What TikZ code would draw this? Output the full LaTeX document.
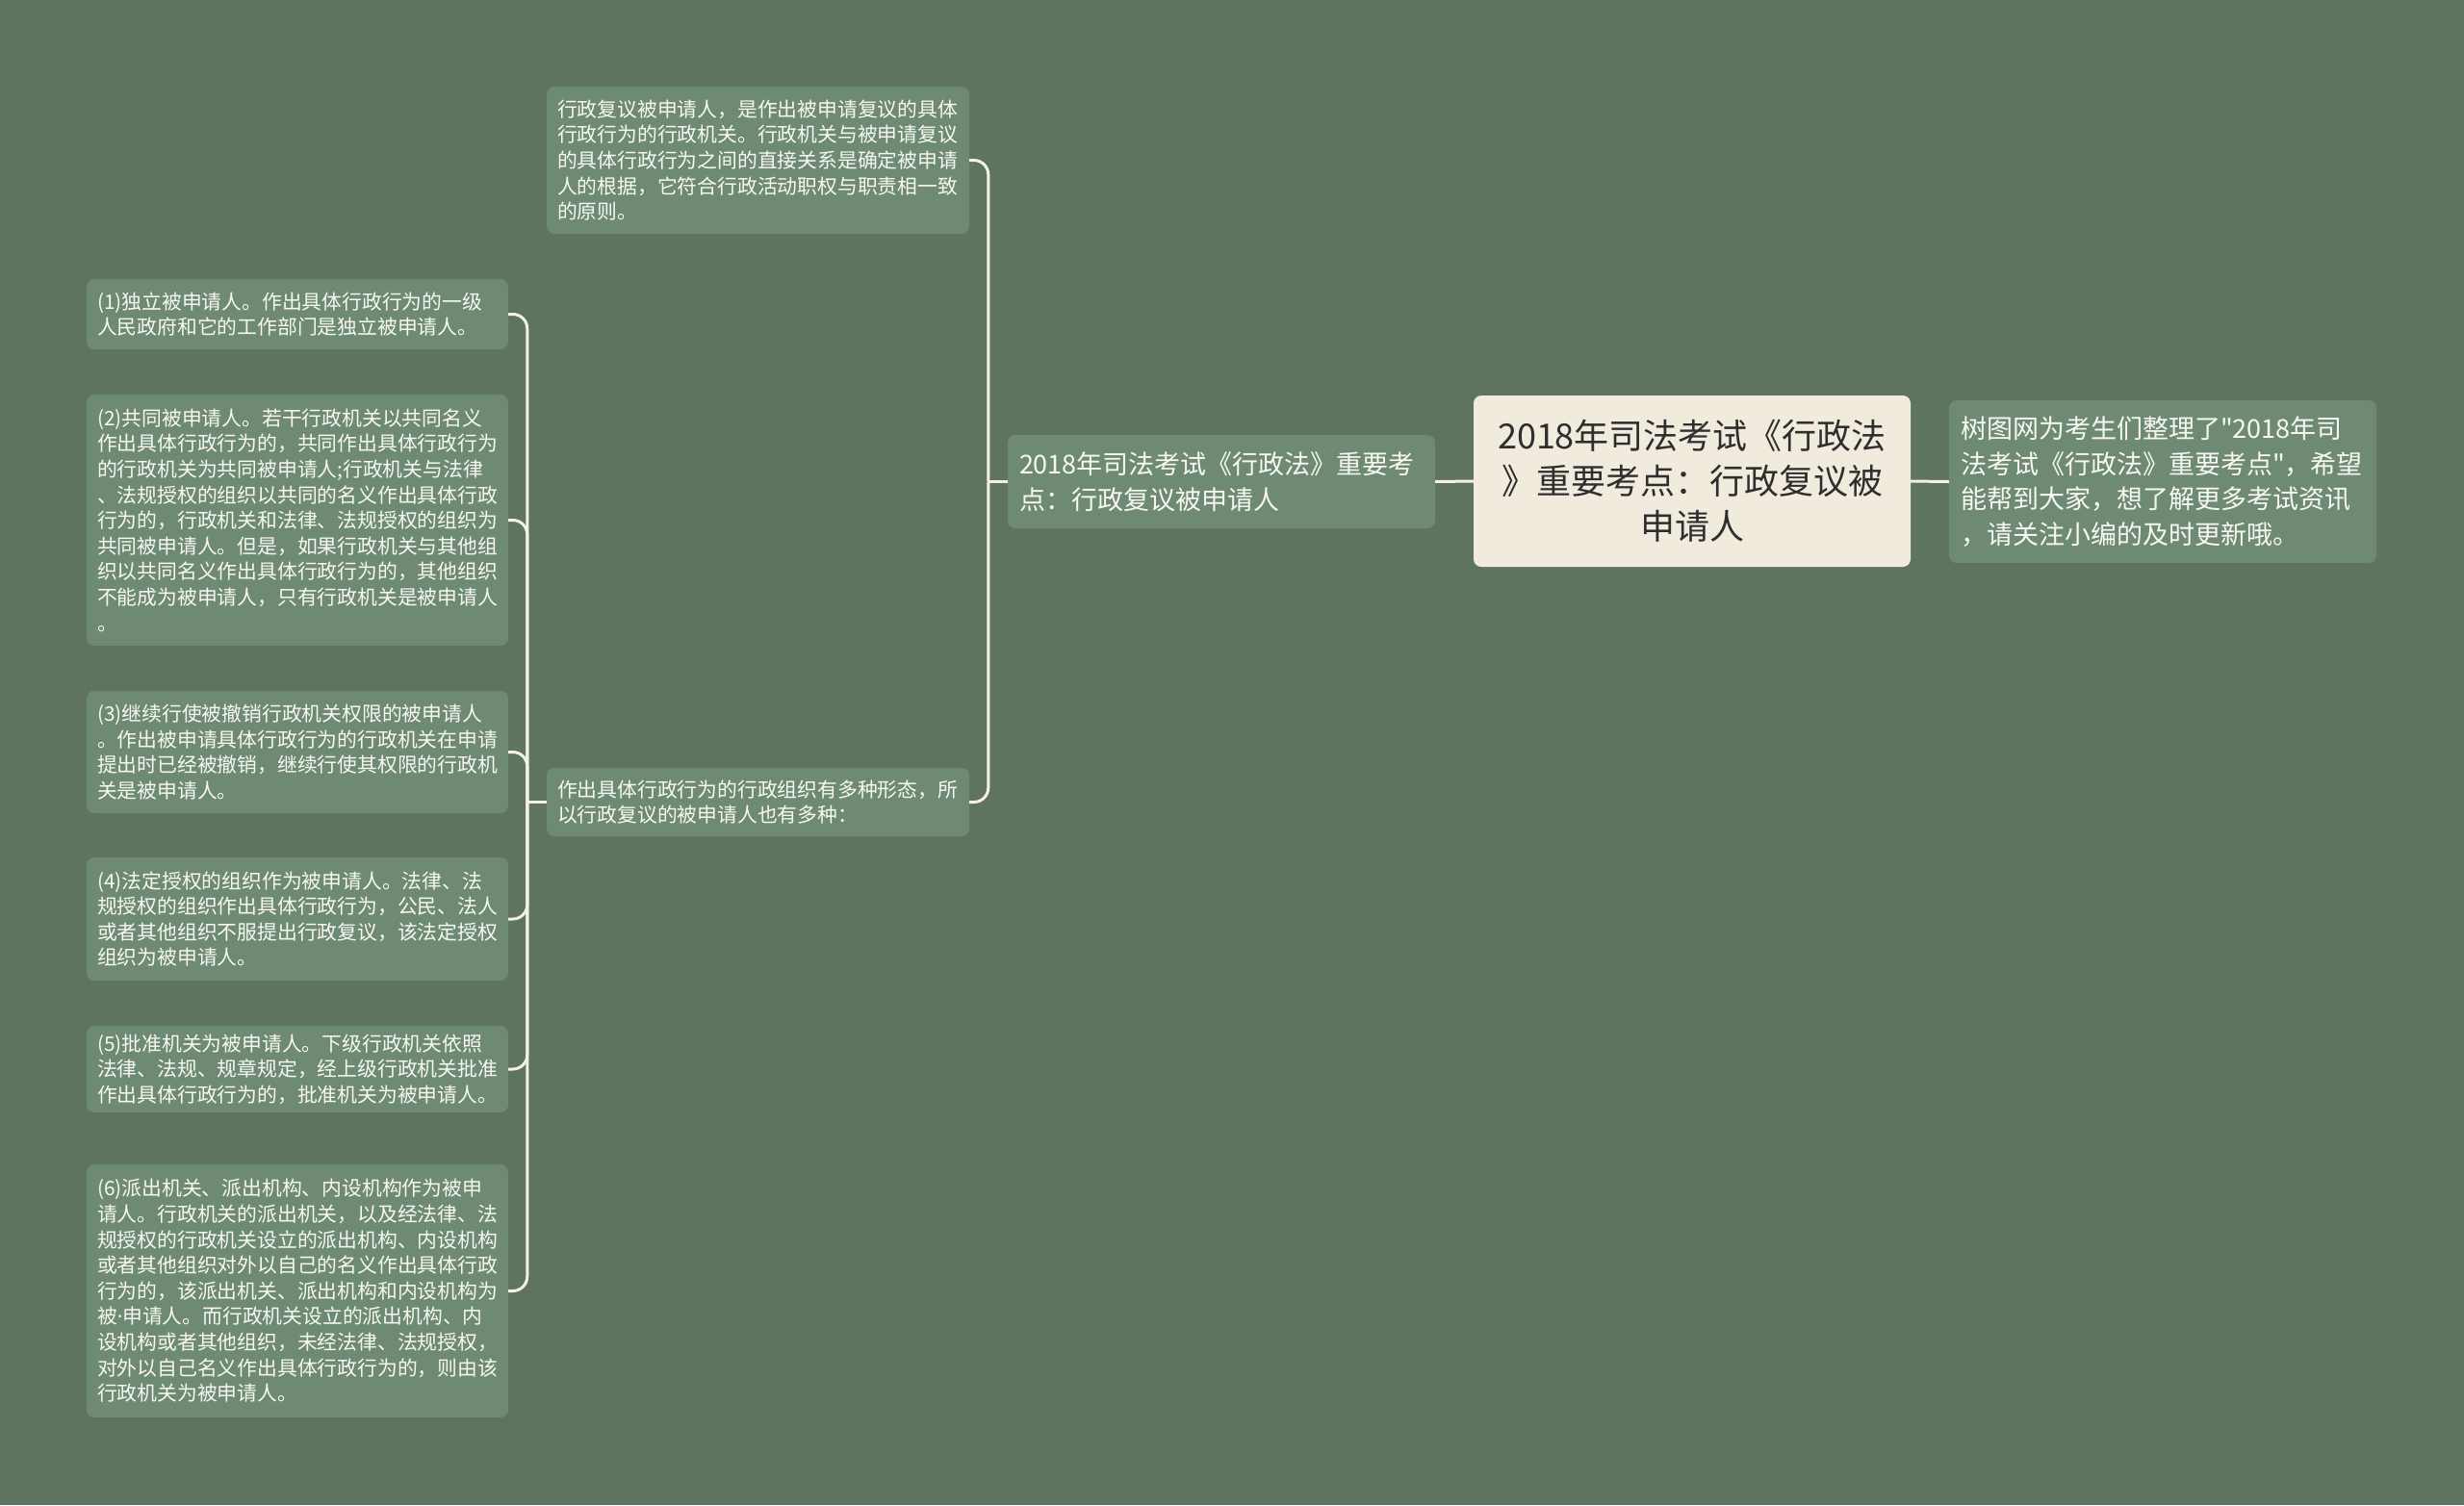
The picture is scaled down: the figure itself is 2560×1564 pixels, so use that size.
\documentclass[tikz,border=0pt]{standalone}
\usepackage{fontspec}
\newfontfamily\cjk{Noto Sans CJK SC}
\newfontfamily\latinf{Noto Sans}
\definecolor{bgc}{HTML}{5F7361}
\definecolor{boxc}{HTML}{6E8A73}
\definecolor{rootc}{HTML}{F0EBDC}
\definecolor{linec}{HTML}{F4F1DE}
\definecolor{txtc}{HTML}{F8F8F3}
\definecolor{roottxt}{HTML}{2E2E2E}
\tikzset{
  base/.style={rounded corners=8pt, inner xsep=11pt, inner ysep=8pt, font=\cjk},
  small/.style={base, fill=boxc, text=txtc, align=left, text width=#1,
     font=\cjk\fontsize{20.8}{26.6}\selectfont},
  mid/.style={base, fill=boxc, text=txtc, align=left, text width=#1,
     font=\cjk\fontsize{27}{36.5}\selectfont},
  rootbox/.style={base, fill=rootc, text=roottxt, align=center, text width=432pt,
     font=\cjk\fontsize{36}{47}\selectfont},
  conn/.style={draw=linec, line width=3pt, rounded corners=15pt},
}
\begin{document}
\begin{tikzpicture}[x=1pt, y=-1pt]
\useasboundingbox (0,0) rectangle (2560,1564);
\fill[bgc] (0,0) rectangle (2560,1564);

\node[rootbox, minimum width=454pt, minimum height=178pt] (root) at (1758,500)
 {2018年司法考试《行政法\\》重要考点：行政复议被\\申请人};
\node[mid=420pt, minimum width=444pt, minimum height=169pt] (right) at (2247,500.5)
 {树图网为考生们整理了"2018年司\\法考试《行政法》重要考点"，希望\\能帮到大家，想了解更多考试资讯\\，请关注小编的及时更新哦。};
\node[mid=420pt, minimum width=444pt, minimum height=97pt] (l1) at (1269,500.5)
 {2018年司法考试《行政法》重要考\\点：行政复议被申请人};

\node[small=417pt, minimum width=439pt, minimum height=153pt] (top) at (787.5,166.5)
 {行政复议被申请人，是作出被申请复议的具体\\行政行为的行政机关。行政机关与被申请复议\\的具体行政行为之间的直接关系是确定被申请\\人的根据，它符合行政活动职权与职责相一致\\的原则。};
\node[small=417pt, minimum width=439pt, minimum height=71pt] (bot) at (787.5,833.5)
 {作出具体行政行为的行政组织有多种形态，所\\以行政复议的被申请人也有多种：};

\node[small=416pt, minimum width=438pt, minimum height=73pt] (c1) at (309,326.5)
 {(1)独立被申请人。作出具体行政行为的一级\\人民政府和它的工作部门是独立被申请人。};
\node[small=416pt, minimum width=438pt, minimum height=261pt] (c2) at (309,540.5)
 {(2)共同被申请人。若干行政机关以共同名义\\作出具体行政行为的，共同作出具体行政行为\\的行政机关为共同被申请人;行政机关与法律\\、法规授权的组织以共同的名义作出具体行政\\行为的，行政机关和法律、法规授权的组织为\\共同被申请人。但是，如果行政机关与其他组\\织以共同名义作出具体行政行为的，其他组织\\不能成为被申请人，只有行政机关是被申请人\\。};
\node[small=416pt, minimum width=438pt, minimum height=127pt] (c3) at (309,781.5)
 {(3)继续行使被撤销行政机关权限的被申请人\\。作出被申请具体行政行为的行政机关在申请\\提出时已经被撤销，继续行使其权限的行政机\\关是被申请人。};
\node[small=416pt, minimum width=438pt, minimum height=128pt] (c4) at (309,955)
 {(4)法定授权的组织作为被申请人。法律、法\\规授权的组织作出具体行政行为，公民、法人\\或者其他组织不服提出行政复议，该法定授权\\组织为被申请人。};
\node[small=416pt, minimum width=438pt, minimum height=90pt] (c5) at (309,1111)
 {(5)批准机关为被申请人。下级行政机关依照\\法律、法规、规章规定，经上级行政机关批准\\作出具体行政行为的，批准机关为被申请人。};
\node[small=416pt, minimum width=438pt, minimum height=263pt] (c6) at (309,1341.5)
 {(6)派出机关、派出机构、内设机构作为被申\\请人。行政机关的派出机关，以及经法律、法\\规授权的行政机关设立的派出机构、内设机构\\或者其他组织对外以自己的名义作出具体行政\\行为的，该派出机关、派出机构和内设机构为\\被{\latinf ·}申请人。而行政机关设立的派出机构、内\\设机构或者其他组织，未经法律、法规授权，\\对外以自己名义作出具体行政行为的，则由该\\行政机关为被申请人。};

\coordinate (j1) at ([xshift=-20pt]l1.west);
\coordinate (j2) at ([xshift=-20pt]bot.west);

\draw[conn] (root.west) -- (l1.east);
\draw[conn] (root.east) -- (right.west);
\draw[conn] (top.east) -| (j1);
\draw[conn] (bot.east) -| (j1);
\draw[conn] (j1) -- (l1.west);
\foreach \c in {c1,c2,c3,c4,c5,c6} { \draw[conn] (\c.east) -| (j2); }
\draw[conn] (j2) -- (bot.west);
\end{tikzpicture}
\end{document}
